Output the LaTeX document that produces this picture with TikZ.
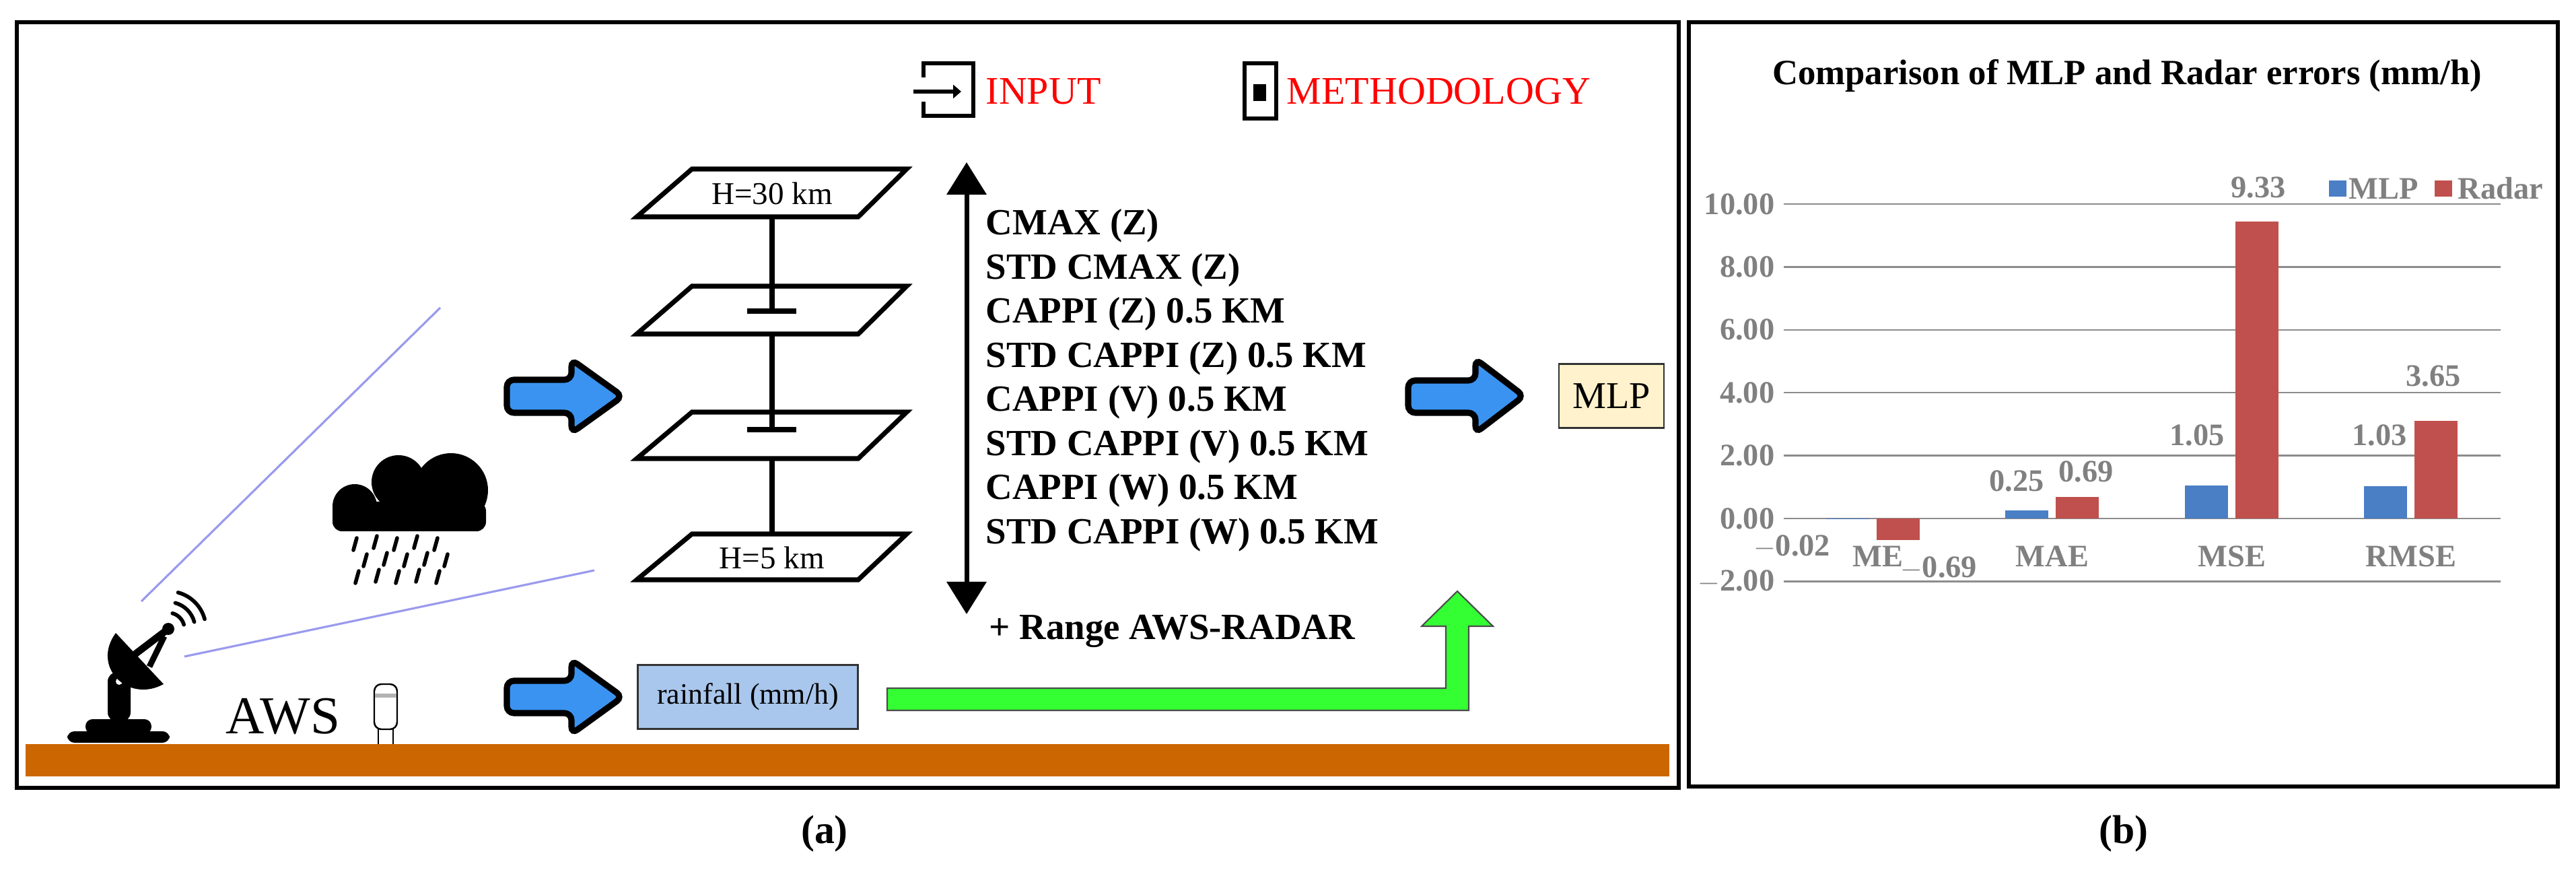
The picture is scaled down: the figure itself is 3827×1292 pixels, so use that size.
\documentclass[tikz,border=0pt]{standalone}
\usepackage{fontspec}
\setmainfont{Liberation Serif}
\usetikzlibrary{arrows.meta,calc}
\definecolor{ground}{HTML}{CC6600}
\definecolor{bluearr}{HTML}{3A93F0}
\definecolor{greenarr}{HTML}{33FF33}
\definecolor{beam}{HTML}{9A9AEE}
\definecolor{rainbox}{HTML}{A9C6EC}
\definecolor{mlpbox}{HTML}{FFF2CC}
\definecolor{mlpbar}{HTML}{4A7EC5}
\definecolor{radbar}{HTML}{C0504D}
\definecolor{axisgray}{HTML}{808080}
\definecolor{gridgray}{HTML}{8C8C8C}
\begin{document}
\begin{tikzpicture}[x=0.01cm,y=-0.01cm,
  frame/.style={line width=1.7pt},
  plane/.style={line width=2pt,line join=miter},
  blockarrow/.style={fill=bluearr,draw=black,line width=2.6pt,rounded corners=3pt},
  listtxt/.style={anchor=base west,inner sep=0pt,font=\fontsize{15.6}{18}\selectfont\bfseries},
  redtxt/.style={anchor=base west,inner sep=0pt,text=red,font=\fontsize{16.5}{18}\selectfont},
  chartlbl/.style={inner sep=0pt,text=axisgray,font=\fontsize{13.2}{15}\selectfont\bfseries},
  mlpfill/.style={fill=mlpbar},
  radfill/.style={fill=radbar}]
\useasboundingbox (0,0) rectangle (3827,1292);
\fill[white] (0,0) rectangle (3827,1292);
% frames
\draw[frame] (25,33) rectangle (2494,1170);
\draw[frame] (2509,33) rectangle (3800,1168);
% ground
\fill[ground] (38,1105) rectangle (2480,1153);
% beams
\draw[beam,line width=0.9pt] (210,893) -- (654,457);
\draw[beam,line width=0.9pt] (274,975) -- (883,847);
% radar
\fill[rounded corners=3pt] (100,1103) rectangle (252,1086);
\fill[rounded corners=3pt] (127,1090) rectangle (225,1068);
\fill[rounded corners=4pt] (160,1072) rectangle (194,998);
\fill[white] (177,1012) circle[radius=5];
\fill (172,940) .. controls (135,990) and (190,1045) .. (243,1016) -- cycle;
\draw[line width=3pt] (200,972) -- (250,934);
\draw[line width=2.5pt] (222,990) -- (244,945);
\fill (250,934) circle[radius=9];
\foreach \r in {24,40,56}
  \draw[line width=1.6pt,line cap=round] ($(250,934)+(-75:\r)$) arc[start angle=-75,end angle=-15,radius=\r];
% cloud
\fill (527,752) circle[radius=33];
\fill (592,716) circle[radius=40];
\fill (670,728) circle[radius=55];
\fill[rounded corners=4pt] (494,745) rectangle (722,789);
\foreach \xx/\yy in {525/808,555/805,585/808,615/805,645/808,
                    540/832,570/830,600/832,630/830,660/832,
                    528/857,558/855,588/857,618/855,648/857}
  \draw[line width=1.6pt,line cap=round] (\xx,\yy+9) -- (\xx+5,\yy-9);
% AWS text and sensor
\node[anchor=base west,inner sep=0pt,font=\fontsize{22.5}{24}\selectfont] (aws) at (335,1090) {AWS};
\draw[line width=0.7pt,rounded corners=3pt] (556,1083) rectangle (590,1016);
\fill[gray!60] (557,1030) rectangle (589,1036);
\draw[line width=0.7pt] (562,1083) -- (562,1105) (584,1083) -- (584,1105);
% blue arrows
\draw[blockarrow] (753,564) -- (849,564) -- (849,534) -- (925,588.5) -- (849,643) -- (849,613) -- (753,613) -- cycle;
\draw[blockarrow] (753,1011) -- (849,1011) -- (849,980) -- (925,1035) -- (849,1090) -- (849,1059) -- (753,1059) -- cycle;
\draw[blockarrow] (2092,565) -- (2192,565) -- (2192,533) -- (2264,588) -- (2192,643) -- (2192,613) -- (2092,613) -- cycle;
% planes
\foreach \yt/\yb/\nm in {251/322/p1,425/496/p2,612/681/p3,793/861/p4}{
  \draw[plane] (946,\yb) -- (1275,\yb) -- (1347,\yt) -- (1028,\yt) -- cycle;
  \coordinate (\nm t) at (1147,\yt);
  \coordinate (\nm b) at (1147,\yb);
}
\node[font=\fontsize{13.4}{15}\selectfont] (h30) at (1147,287) {H=30 km};
\node[font=\fontsize{13.4}{15}\selectfont] (h5) at (1147,828) {H=5 km};
\coordinate (tk1) at (1147,462);
\coordinate (tk2) at (1147,638);
\draw[line width=2pt] (p1b) -- (tk1);
\draw[line width=2pt] (p2b) -- (tk2);
\draw[line width=2pt] (p3b) -- (p4t);
\draw[line width=2pt] (1110,462) -- (1183,462);
\draw[line width=2pt] (1110,638) -- (1183,638);
% double arrow
\coordinate (vtop) at (1436,241);
\coordinate (vbot) at (1436,912);
\draw[line width=2pt,{Triangle[width=0.58cm,length=0.48cm]}-{Triangle[width=0.58cm,length=0.48cm]}] (vtop) -- (vbot);
% list
\foreach \t [count=\i from 0] in {CMAX (Z),STD CMAX (Z),CAPPI (Z) 0.5 KM,STD CAPPI (Z) 0.5 KM,CAPPI (V) 0.5 KM,STD CAPPI (V) 0.5 KM,CAPPI (W) 0.5 KM,STD CAPPI (W) 0.5 KM}
  \node[listtxt] (l\i) at (1464,{349+65.5*\i}) {\t};
\node[listtxt] (range) at (1469,950) {+ Range AWS-RADAR};
% legend icons
\draw[line width=1.7pt] (1372,115) -- (1372,94) -- (1446,94) -- (1446,172) -- (1372,172) -- (1372,151);
\draw[line width=1.8pt,-{Triangle[width=0.2cm,length=0.12cm]}] (1357,136) -- (1428,136);
\node[redtxt] (inp) at (1464,155) {INPUT};
\draw[line width=1.7pt] (1849,94) rectangle (1896,176);
\fill (1862,125) rectangle (1881,150);
\node[redtxt] (meth) at (1911,155) {METHODOLOGY};
% boxes
\node[draw=black!80,line width=0.8pt,fill=rainbox,minimum width=3.27cm,minimum height=0.95cm,inner sep=0pt,font=\fontsize{12.5}{14}\selectfont] (rain) at (1111,1035) {rainfall (mm/h)};
\node[draw=black!80,line width=0.8pt,fill=mlpbox,minimum width=1.56cm,minimum height=0.95cm,inner sep=0pt,font=\fontsize{16}{18}\selectfont] (mlp) at (2394,588) {MLP};
% green arrow
\draw[fill=greenarr,draw=black!70,line width=0.6pt] (1318,1022) -- (2148,1022) -- (2148,930) -- (2112,930) -- (2165,878) -- (2218,930) -- (2182,930) -- (2182,1055) -- (1318,1055) -- cycle;
% chart
\node[font=\fontsize{15}{17}\selectfont\bfseries] (title) at (3160,113) {Comparison of MLP and Radar errors (mm/h)};
\def\yz{770}\def\u{46.7}
\foreach \v/\lab in {10/10.00,8/8.00,6/6.00,4/4.00,2/2.00,0/0.00,-2/{$-$2.00}}{
  \draw[gridgray,line width=0.7pt] (2650,{\yz-\u*\v}) -- (3715,{\yz-\u*\v});
  \node[chartlbl,anchor=east] at (2637,{\yz-\u*\v}) {\lab};
}
\foreach \c/\m/\r/\nm in {2783/-0.02/-0.69/ME,3049/0.25/0.69/MAE,3316/1.05/9.45/MSE,3582/1.03/3.1/RMSE}{
  \fill[mlpfill] ({\c-70},\yz) rectangle ({\c-6},{\yz-\u*\m});
  \fill[radfill] ({\c+5},\yz) rectangle ({\c+69},{\yz-\u*\r});
}
\foreach \c/\nm in {2790/ME,3049/MAE,3316/MSE,3582/RMSE}
  \node[chartlbl] at (\c,826) {\nm};
\node[chartlbl] at (2662,812) {$-$0.02};
\node[chartlbl] at (2880,844) {$-$0.69};
\node[chartlbl] at (2996,714) {0.25};
\node[chartlbl] at (3099,700) {0.69};
\node[chartlbl] at (3264,646) {1.05};
\node[chartlbl] at (3355,278) {9.33};
\node[chartlbl] at (3535,646) {1.03};
\node[chartlbl] at (3615,558) {3.65};
\fill[mlpbar] (3460,268) rectangle (3486,292);
\node[chartlbl,anchor=west] at (3489,280) {MLP};
\fill[radbar] (3617,268) rectangle (3643,292);
\node[chartlbl,anchor=west] at (3651,280) {Radar};
% panel labels
\node[font=\fontsize{17}{19}\selectfont\bfseries] (la) at (1225,1238) {(a)};
\node[font=\fontsize{17}{19}\selectfont\bfseries] (lb) at (3155,1238) {(b)};
\end{tikzpicture}
\end{document}
